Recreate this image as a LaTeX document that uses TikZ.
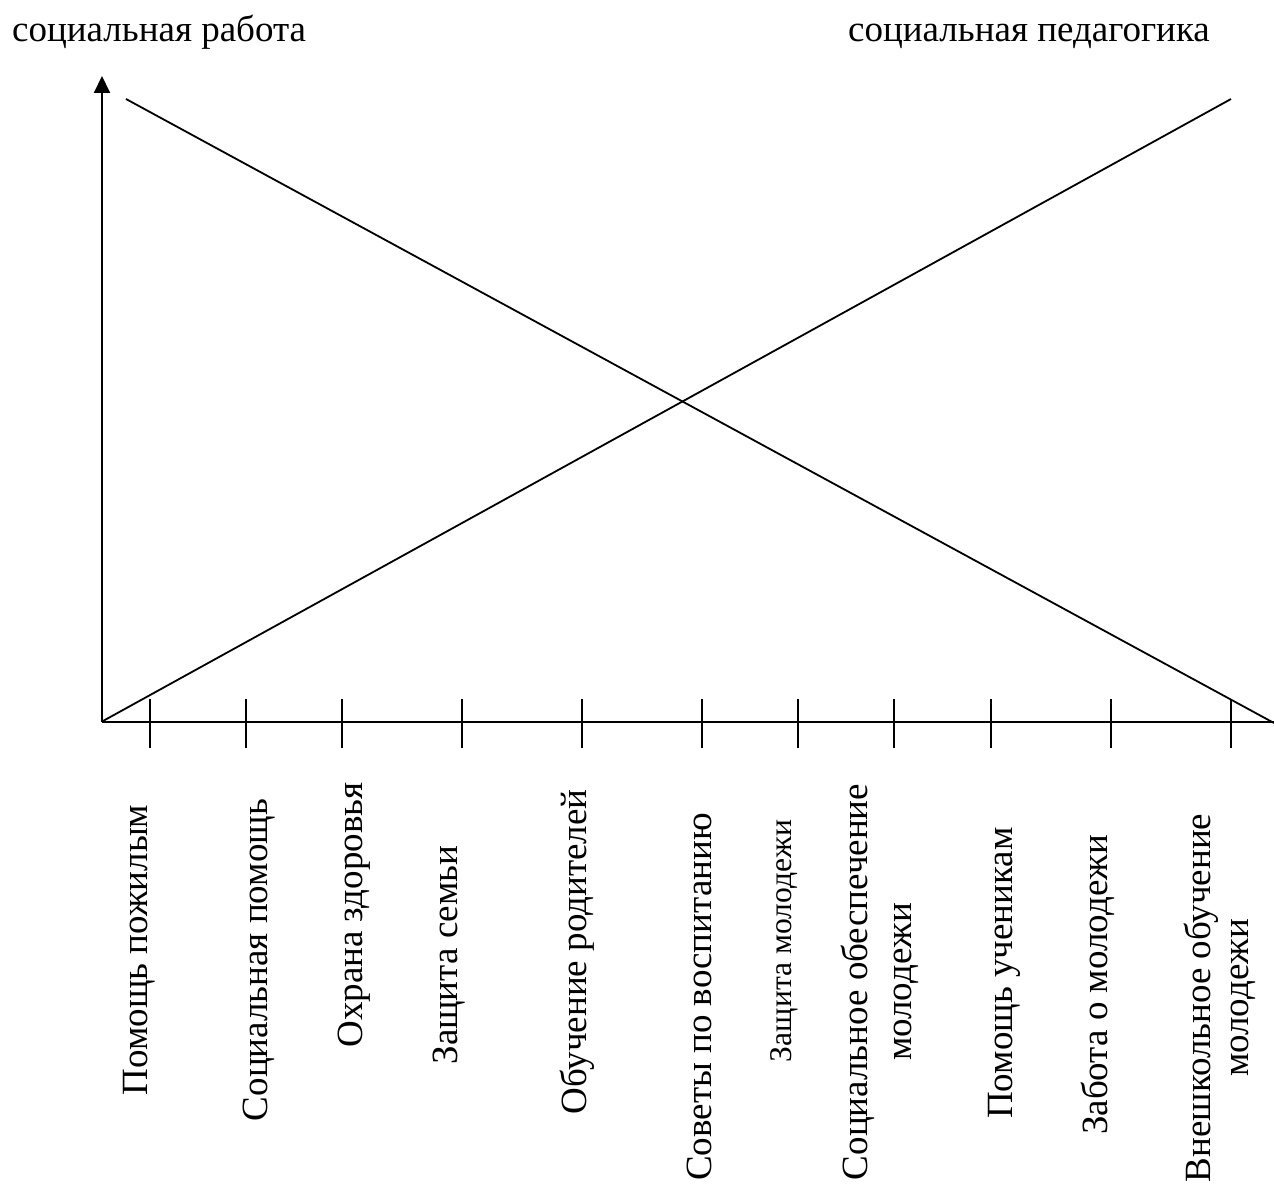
\documentclass[tikz,border=0pt]{standalone}
\usepackage{fontspec}
\setmainfont{Liberation Serif}
\usetikzlibrary{arrows.meta}
\tikzset{
  axis/.style={line width=2pt},
  diag/.style={line width=1.8pt},
  tick/.style={line width=2pt},
  lbl/.style={inner sep=0pt, rotate=90, anchor=base, font=\fontsize{37}{42}\selectfont},
  lbls/.style={lbl, font=\fontsize{31.6}{36}\selectfont},
  lbl2/.style={lbl, align=center},
  head/.style={inner sep=0pt, anchor=base west, font=\fontsize{37}{42}\selectfont}
}
\begin{document}
\begin{tikzpicture}[x=1pt,y=-1pt]
\useasboundingbox (0,0) rectangle (1274,1188);
\coordinate (O) at (102,722);
\coordinate (Ytop) at (102,76);
\coordinate (Xend) at (1274,722);
\coordinate (A1) at (126,99);
\coordinate (A2) at (1274,723);
\coordinate (B1) at (103,721);
\coordinate (B2) at (1231,99);
\draw[axis,-{Triangle[width=16pt,length=17pt]}] (O) -- (Ytop);
\draw[axis] (O) -- (Xend);
\draw[diag] (A1) -- (A2);
\draw[diag] (B1) -- (B2);
\foreach \t/\x in {1/150,2/246,3/342,4/462,5/582,6/702,7/798,8/894,9/991,10/1111,11/1231}{
  \coordinate (tk\t a) at (\x,699);
  \coordinate (tk\t b) at (\x,748);
  \draw[tick] (tk\t a) -- (tk\t b);
}
\node[head] (hl) at (12,42) {социальная работа};
\node[head] (hr) at (848,42) {социальная педагогика};
\node[lbl] (l1) at (147,950) {Помощь пожилым};
\node[lbl] (l2) at (267,960) {Социальная помощь};
\node[lbl] (l3) at (362,915) {Охрана здоровья};
\node[lbl] (l4) at (457,955) {Защита семьи};
\node[lbl] (l5) at (586,952) {Обучение родителей};
\node[lbl] (l6) at (711,997) {Советы по воспитанию};
\node[lbls] (l7) at (791,941) {Защита молодежи};
\node[lbl2] (l8) at (911,982) {Социальное обеспечение\\[2pt]молодежи};
\node[lbl] (l9) at (1012,973) {Помощь ученикам};
\node[lbl] (l10) at (1107,985) {Забота о молодежи};
\node[lbl2] (l11) at (1248,998) {Внешкольное обучение\\[-4pt]молодежи};
\end{tikzpicture}
\end{document}
